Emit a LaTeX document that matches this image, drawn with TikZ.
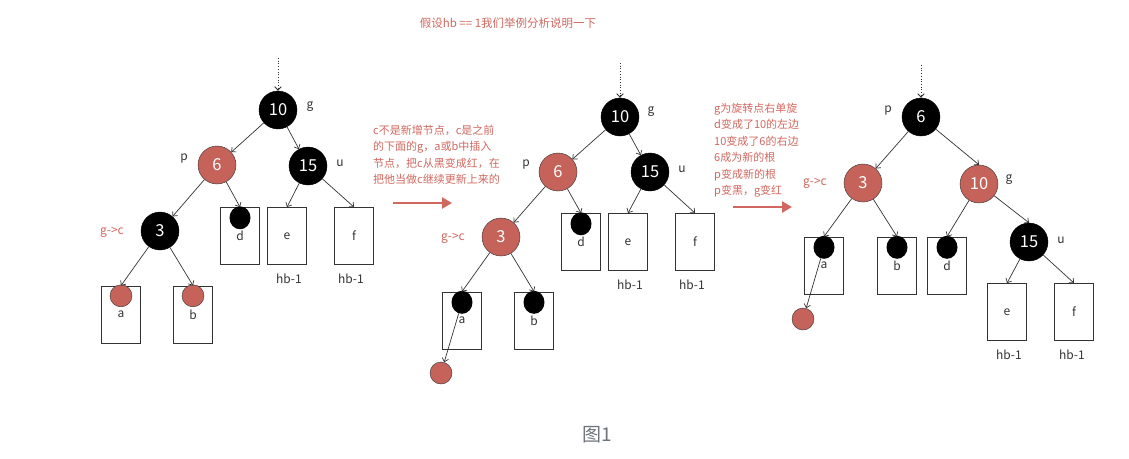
\documentclass[tikz,border=0pt]{standalone}
\usepackage{fontspec}
\setmainfont{Noto Sans CJK SC}
\usetikzlibrary{shapes.geometric, arrows.meta, positioning}
\definecolor{rbred}{HTML}{C5625A}
\definecolor{notered}{HTML}{D0685F}
\definecolor{inkgray}{HTML}{333333}
\definecolor{capgray}{HTML}{6E7379}

\begin{document}
\begin{tikzpicture}[
    x=1pt, y=-1pt,
    blacknode/.style={circle, draw=black, fill=black, minimum size=38pt, inner sep=0pt, text=white, font=\fontsize{16.5}{16.5}\selectfont},
    rednode/.style={blacknode, draw=inkgray, fill=rbred},
    leaf/.style={rectangle, draw=inkgray, line width=0.8pt, minimum width=39pt, minimum height=57pt, inner sep=0pt, text=inkgray, font=\fontsize{12}{12}\selectfont},
    blackdot/.style={ellipse, fill=black, minimum width=21pt, minimum height=23pt, inner sep=0pt},
    reddot/.style={circle, draw=inkgray, fill=rbred, minimum size=22pt, inner sep=0pt},
    tag/.style={text=inkgray, font=\fontsize{12}{12}\selectfont},
    redtag/.style={text=notered, font=\fontsize{12}{12}\selectfont},
    note/.style={align=left, anchor=north west, inner sep=0pt, text=notered, font=\fontsize{11}{16.5}\selectfont},
    edge/.style={-{Straight Barb[length=3.5pt, width=6.5pt]}, inkgray, line width=0.7pt},
    dotedge/.style={edge, dotted, line width=0.9pt},
    redarrow/.style={-{Triangle[length=10pt, width=11pt]}, notered, line width=2.6pt}
]
\useasboundingbox (0,0) rectangle (1129,458);

% Title
\node[text=notered, font=\fontsize{11.5}{11.5}\selectfont] (title) at (508,23) {假设hb == 1我们举例分析说明一下};

% Tree 1
\coordinate (top1) at (278,58);
\node[blacknode] (g1) at (278,110) {10};
\node[rednode] (p1) at (217,165) {6};
\node[blacknode] (u1) at (308,166) {15};
\node[blacknode] (c1) at (160,231) {3};
\node[leaf] (a1) at (121,314.5) {a};
\node[leaf] (b1) at (193,314.5) {b};
\node[leaf] (d1) at (240,236) {d};
\node[leaf] (e1) at (287,236) {e};
\node[leaf] (f1) at (354,236) {f};
\node[reddot, below=-1pt of a1.north] (a1dot) {};
\node[reddot, below=-1pt of b1.north] (b1dot) {};
\node[blackdot, below=-1pt of d1.north] (d1dot) {};
\node[tag] at (310,107) {g};
\node[tag] at (184,159) {p};
\node[tag] at (340,163) {u};
\node[redtag] at (112,232) {g->c};
\node[tag, below=6pt of e1, xshift=2pt] {hb-1};
\node[tag, below=6pt of f1, xshift=-3pt] {hb-1};

\draw[dotedge] (top1) -- (g1.north);
\draw[edge] (g1) -- (p1);
\draw[edge] (g1) -- (u1);
\draw[edge] (p1) -- (c1);
\draw[edge] (p1) -- (d1.north);
\draw[edge] (u1) -- (e1.north);
\draw[edge] (u1) -- (f1.north);
\draw[edge] (c1) -- (a1.north);
\draw[edge] (c1) -- (b1.north);

% Note 1
\node[note] (note1) at (373,125) {c不是新增节点，c是之前\\的下面的g，a或b中插入\\节点，把c从黑变成红，在\\把他当做c继续更新上来的};
\coordinate (arr1s) at (393,203);
\coordinate (arr1e) at (452,203);
\draw[redarrow] (arr1s) -- (arr1e);

% Tree 2
\coordinate (top2) at (620,63);
\node[blacknode] (g2) at (620,117) {10};
\node[rednode] (p2) at (558,172) {6};
\node[blacknode] (u2) at (650,172) {15};
\node[rednode] (c2) at (501,237) {3};
\node[leaf] (a2) at (462,320.5) {a};
\node[leaf] (b2) at (534,320.5) {b};
\node[leaf] (d2) at (581,242) {d};
\node[leaf] (e2) at (628,242) {e};
\node[leaf] (f2) at (695,242) {f};
\node[blackdot, below=-1pt of a2.north] (a2dot) {};
\node[blackdot, below=-1pt of b2.north] (b2dot) {};
\node[blackdot, below=-1pt of d2.north] (d2dot) {};
\node[reddot] (new2) at (441,373) {};
\node[tag] at (651,112) {g};
\node[tag] at (526,165) {p};
\node[tag] at (682,169) {u};
\node[redtag] at (453,238) {g->c};
\node[tag, below=6pt of e2, xshift=2pt] {hb-1};
\node[tag, below=6pt of f2, xshift=-3pt] {hb-1};

\draw[dotedge] (top2) -- (g2.north);
\draw[edge] (g2) -- (p2);
\draw[edge] (g2) -- (u2);
\draw[edge] (p2) -- (c2);
\draw[edge] (p2) -- (d2.north);
\draw[edge] (u2) -- (e2.north);
\draw[edge] (u2) -- (f2.north);
\draw[edge] (c2) -- (a2.north);
\draw[edge] (c2) -- (b2.north);
\draw[edge] (a2dot) -- (new2);

% Note 2
\node[note] (note2) at (714,103) {g为旋转点右单旋\\d变成了10的左边\\10变成了6的右边\\6成为新的根\\p变成新的根\\p变黑，g变红};
\coordinate (arr2s) at (733,207);
\coordinate (arr2e) at (792,207);
\draw[redarrow] (arr2s) -- (arr2e);

% Tree 3
\coordinate (top3) at (921,65);
\node[blacknode] (p3) at (921,117) {6};
\node[rednode] (c3) at (863,183) {3};
\node[rednode] (g3) at (979,184) {10};
\node[blacknode] (u3) at (1029,242) {15};
\node[leaf] (a3) at (824,265.5) {a};
\node[leaf] (b3) at (897,265.5) {b};
\node[leaf] (d3) at (947,265.5) {d};
\node[leaf] (e3) at (1007,312) {e};
\node[leaf] (f3) at (1074,312) {f};
\node[blackdot, below=-1pt of a3.north] (a3dot) {};
\node[blackdot, below=-1pt of b3.north] (b3dot) {};
\node[blackdot, below=-1pt of d3.north] (d3dot) {};
\node[reddot] (new3) at (803,319) {};
\node[tag] at (888,111) {p};
\node[redtag] at (815,183) {g->c};
\node[tag] at (1009,180) {g};
\node[tag] at (1061,240) {u};
\node[tag, below=6pt of e3, xshift=2pt] {hb-1};
\node[tag, below=6pt of f3, xshift=-2pt] {hb-1};

\draw[dotedge] (top3) -- (p3.north);
\draw[edge] (p3) -- (c3);
\draw[edge] (p3) -- (g3.north);
\draw[edge] (c3) -- (a3.north);
\draw[edge] (c3) -- (b3.north);
\draw[edge] (g3) -- (d3.north);
\draw[edge] (g3) -- (u3.north);
\draw[edge] (u3) -- (e3.north);
\draw[edge] (u3) -- (f3.north);
\draw[edge] (a3dot) -- (new3);

% Caption
\node[text=capgray, font=\fontsize{19}{19}\selectfont] (caption) at (597,435) {图1};
\end{tikzpicture}
\end{document}
